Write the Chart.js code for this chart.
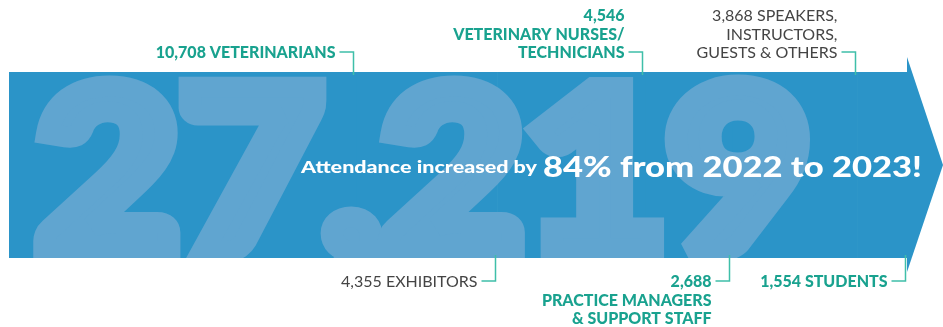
<!DOCTYPE html>
<html>
<head>
<meta charset="utf-8">
<script src="https://cdn.jsdelivr.net/npm/chart.js@4"></script>
<style>
  html, body { margin: 0; padding: 0; background: #fff; }
  #wrap { width: 943px; height: 327px; position: relative; }
</style>
</head>
<body>
<div id="wrap"><canvas id="attendanceChart"></canvas></div>
<script>
// data
const categories = ['Veterinarians', 'Exhibitors', 'Veterinary Nurses/Technicians',
  'Practice Managers & Support Staff', 'Speakers, Instructors, Guests & Others', 'Students'];
const attendees = [10708, 4355, 4546, 2688, 3868, 1554];
const labelLines = [
  ['10,708 VETERINARIANS'],
  ['4,355 EXHIBITORS'],
  ['4,546', 'VETERINARY NURSES/', 'TECHNICIANS'],
  ['2,688', 'PRACTICE MANAGERS', '& SUPPORT STAFF'],
  ['3,868 SPEAKERS,', 'INSTRUCTORS,', 'GUESTS & OTHERS'],
  ['1,554 STUDENTS']
];
const labelSide = ['top', 'bottom', 'top', 'bottom', 'top', 'bottom'];
const labelColor = ['#19a28f', '#444444', '#19a28f', '#19a28f', '#444444', '#19a28f'];
const labelBold = [true, false, true, true, false, true];
const totalAttendance = '27,219';
const headlineSmall = 'Attendance increased by';
const headlineBig = '84% from 2022 to 2023!';

const sum = attendees.reduce((s, v) => s + v, 0);
const BLUE = '#2b94c8';

// текст с заданной шириной
function fitText(ctx, text, x, y, width) {
  const w = ctx.measureText(text).width;
  ctx.save();
  ctx.translate(x, y);
  ctx.scale(width / w, 1);
  ctx.fillText(text, 0, 0);
  ctx.restore();
}

// стрелка, большая цифра, подписи
const arrowPlugin = {
  id: 'arrowPlugin',
  beforeDatasetsDraw(chart) {
    const { ctx, chartArea, scales } = chart;
    const xEnd = scales.x.getPixelForValue(sum);
    const midY = (chartArea.top + chartArea.bottom) / 2;
    ctx.save();
    ctx.fillStyle = BLUE;
    ctx.beginPath();
    ctx.moveTo(xEnd - 1, chartArea.top - 15);
    ctx.lineTo(xEnd + 35, midY);
    ctx.lineTo(xEnd - 1, chartArea.bottom + 14);
    ctx.closePath();
    ctx.fill();
    ctx.restore();
  },
  afterDatasetsDraw(chart) {
    const { ctx, chartArea, scales } = chart;
    const x = scales.x;
    const left = x.getPixelForValue(0);
    const right = x.getPixelForValue(sum);

    // большая цифра 27,219
    ctx.save();
    ctx.beginPath();
    ctx.rect(left, chartArea.top, right - left, chartArea.bottom - chartArea.top);
    ctx.clip();
    ctx.font = '900 260px Lato';
    const m = ctx.measureText(totalAttendance);
    const stroke = 22;
    const fillW = 780 - stroke, fillH = 188 - stroke;
    const sx = fillW / (m.actualBoundingBoxLeft + m.actualBoundingBoxRight);
    const sy = fillH / m.actualBoundingBoxAscent;
    ctx.translate(left + 24 + stroke / 2 + m.actualBoundingBoxLeft * sx,
      chartArea.top + 2 + stroke / 2 + fillH);
    ctx.scale(sx, sy);
    ctx.fillStyle = '#60a5d0';
    ctx.strokeStyle = '#60a5d0';
    ctx.lineJoin = 'miter';
    ctx.miterLimit = 2;
    ctx.lineWidth = stroke / ((sx + sy) / 2);
    ctx.textBaseline = 'alphabetic';
    ctx.fillText(totalAttendance, 0, 0);
    ctx.strokeText(totalAttendance, 0, 0);
    ctx.restore();

    // заголовок
    ctx.save();
    ctx.fillStyle = '#ffffff';
    ctx.textBaseline = 'alphabetic';
    ctx.font = '900 17px Lato';
    fitText(ctx, headlineSmall, 301, 173, 236);
    ctx.font = '900 28px Lato';
    fitText(ctx, headlineBig, 543, 177, 379);
    ctx.restore();

    // подписи с выносками
    let cum = 0;
    attendees.forEach((v, i) => {
      cum += v;
      const lx = Math.round(x.getPixelForValue(cum)) - 2.5;
      const lines = labelLines[i];
      const top = labelSide[i] === 'top';
      const lineH = 18.5;
      const tickY = top ? chartArea.top - 20 : chartArea.bottom + 23;
      ctx.save();
      ctx.strokeStyle = '#3fbfa9';
      ctx.lineWidth = 1.5;
      ctx.beginPath();
      ctx.moveTo(lx - 14, tickY);
      ctx.lineTo(lx, tickY);
      ctx.lineTo(lx, top ? chartArea.top + 3 : chartArea.bottom - 3);
      ctx.stroke();

      ctx.fillStyle = labelColor[i];
      ctx.font = (labelBold[i] ? '900 16px Lato' : '400 16px Lato');
      ctx.textAlign = 'right';
      ctx.textBaseline = 'middle';
      lines.forEach((t, k) => {
        const y = top ? tickY - (lines.length - 1 - k) * lineH : tickY + k * lineH;
        ctx.fillText(t, lx - 18, y + 1);
      });
      ctx.restore();
    });
  }
};

const ctx = document.getElementById('attendanceChart').getContext('2d');
new Chart(ctx, {
  type: 'bar',
  data: {
    labels: ['2023'],
    datasets: categories.map((c, i) => ({
      label: c,
      data: [attendees[i]],
      backgroundColor: BLUE,
      borderWidth: 0,
      barPercentage: 1,
      categoryPercentage: 1
    }))
  },
  options: {
    indexAxis: 'y',
    responsive: true,
    maintainAspectRatio: false,
    animation: false,
    layout: { padding: { left: 9, right: 35, top: 72, bottom: 69 } },
    scales: {
      x: { stacked: true, min: 0, max: sum, display: false },
      y: { stacked: true, display: false }
    },
    plugins: {
      legend: { display: false },
      tooltip: { enabled: false }
    }
  },
  plugins: [arrowPlugin]
});
</script>
</body>
</html>
